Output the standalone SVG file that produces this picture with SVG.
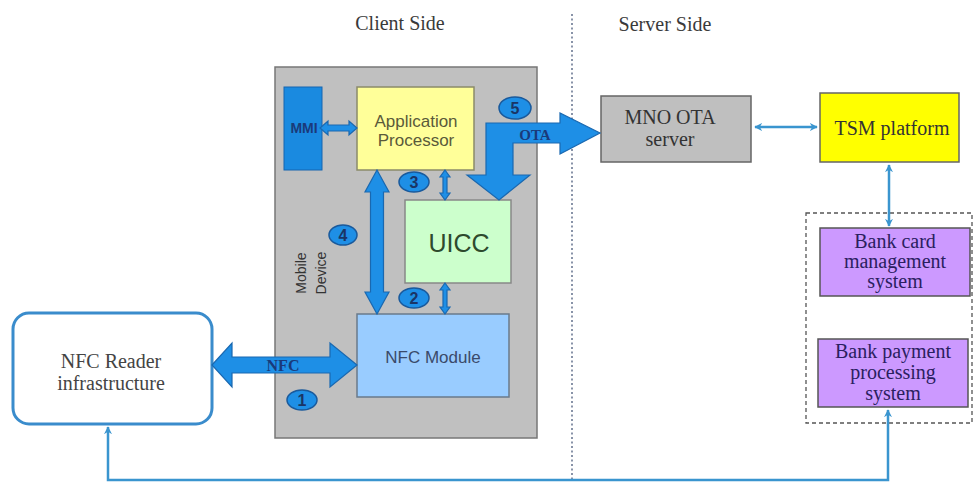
<svg xmlns="http://www.w3.org/2000/svg" width="974" height="482" viewBox="0 0 974 482">
<defs>
<marker id="ah" viewBox="0 0 10 10" refX="9" refY="5" markerWidth="3.2" markerHeight="3.2" orient="auto-start-reverse"><path d="M0,0 L10,5 L0,10 L3,5 Z" fill="#3a95cf"/></marker>
<style>
.serif{font-family:"Liberation Serif","Times New Roman",serif;}
.sans{font-family:"Liberation Sans",Arial,sans-serif;}
.thick{fill:#1e8fe6;stroke:#1a68b0;stroke-width:1.2;stroke-linejoin:miter;}
.thin{fill:none;stroke:#3a95cf;stroke-width:2.5;}
.badge ellipse{fill:#1e8fe6;stroke:#1a5a9c;stroke-width:1.5;}
.badge text{font-family:"Liberation Sans",Arial,sans-serif;font-size:16px;font-weight:bold;fill:#1a3566;text-anchor:middle;}
.lbl{text-anchor:middle;}
.bank{font-size:20px;fill:#2a2060;}
</style>
</defs>
<rect width="974" height="482" fill="#ffffff"/>

<!-- side labels and separator -->
<text class="serif" x="400" y="30" font-size="20" fill="#3a3a3a" text-anchor="middle">Client Side</text>
<text class="serif" x="665" y="31" font-size="20" fill="#3a3a3a" text-anchor="middle">Server Side</text>
<line x1="572" y1="14" x2="572" y2="482" stroke="#4a5a7a" stroke-width="1.3" stroke-dasharray="2,2.5"/>

<!-- Mobile device container -->
<g id="mobile-device">
<rect x="275" y="67" width="262" height="371" fill="#c0c0c0" stroke="#777777" stroke-width="1.5"/>
<text class="sans" font-size="14" fill="#333" text-anchor="middle" transform="translate(306,273) rotate(-90)">Mobile</text>
<text class="sans" font-size="14" fill="#333" text-anchor="middle" transform="translate(326,273) rotate(-90)">Device</text>
</g>

<g id="mmi">
<rect x="284" y="87" width="38" height="83" fill="#1a8ae0" stroke="#1565b0" stroke-width="1"/>
<text class="sans" x="304" y="133" font-size="14" font-weight="bold" fill="#1a3a7a" text-anchor="middle">MMI</text>
</g>

<g id="app-processor">
<rect x="357" y="87" width="117" height="83" fill="#ffff99" stroke="#8a8a6a" stroke-width="1.5"/>
<text class="sans lbl" x="416" y="127" font-size="17" fill="#5a5a3a">Application</text>
<text class="sans lbl" x="416" y="146" font-size="17" fill="#5a5a3a">Processor</text>
</g>

<g id="uicc">
<rect x="405" y="200" width="106" height="83" fill="#ccffcc" stroke="#888888" stroke-width="1.5"/>
<text class="sans lbl" x="459" y="252" font-size="25" fill="#2d4a2d">UICC</text>
</g>

<g id="nfc-module">
<rect x="357" y="314" width="152" height="83" fill="#99ccff" stroke="#6a7a8a" stroke-width="1.5"/>
<text class="sans lbl" x="433" y="363" font-size="17" fill="#3a4a6a">NFC Module</text>
</g>

<g id="nfc-reader">
<rect x="13" y="313" width="199" height="111" rx="16" ry="16" fill="#ffffff" stroke="#3a8ccc" stroke-width="3"/>
<text class="serif lbl" x="111" y="368" font-size="20" fill="#444">NFC Reader</text>
<text class="serif lbl" x="111" y="390" font-size="20" fill="#444">infrastructure</text>
</g>

<g id="mno-ota">
<rect x="601" y="96" width="150" height="66" fill="#bfbfbf" stroke="#666666" stroke-width="1.5"/>
<text class="serif lbl" x="670" y="124" font-size="20" fill="#333">MNO OTA</text>
<text class="serif lbl" x="670" y="146" font-size="20" fill="#333">server</text>
</g>

<g id="tsm">
<rect x="820" y="93" width="139" height="69" fill="#ffff00" stroke="#666666" stroke-width="1.5"/>
<text class="serif lbl" x="892" y="135" font-size="20" fill="#333">TSM platform</text>
</g>

<g id="bank-group">
<rect x="806" y="213" width="166" height="210" fill="none" stroke="#555555" stroke-width="1.3" stroke-dasharray="4,3"/>
</g>

<g id="bank-card">
<rect x="820" y="228" width="150" height="68" fill="#cc99ff" stroke="#555555" stroke-width="1.5"/>
<text class="serif lbl bank" x="895" y="248">Bank card</text>
<text class="serif lbl bank" x="895" y="268">management</text>
<text class="serif lbl bank" x="895" y="288">system</text>
</g>

<g id="bank-payment">
<rect x="818" y="339" width="150" height="68" fill="#cc99ff" stroke="#555555" stroke-width="1.5"/>
<text class="serif lbl bank" x="893" y="358">Bank payment</text>
<text class="serif lbl bank" x="893" y="379">processing</text>
<text class="serif lbl bank" x="893" y="400">system</text>
</g>

<g id="connectors">
<!-- NFC thick double arrow -->
<polygon class="thick" points="212,365 232,343 232,357 330,357 330,343 357,365 330,387 330,373 232,373 232,387"/>
<text class="serif" x="283" y="371" font-size="16" font-weight="bold" fill="#1a3a7a" text-anchor="middle">NFC</text>
<!-- AP <-> NFC module (4) -->
<polygon class="thick" points="377,170 389,192 383.5,192 383.5,292 389,292 377,314 365,292 370.5,292 370.5,192 365,192"/>
<!-- MMI <-> AP -->
<polygon class="thick" points="320,128 328,121 328,125 349,125 349,121 357,128 349,135 349,131 328,131 328,135"/>
<!-- AP <-> UICC (3) -->
<polygon class="thick" points="445,170 450,177 447,177 447,193 450,193 445,200 440,193 443,193 443,177 440,177"/>
<!-- UICC <-> NFC module (2) -->
<polygon class="thick" points="445,283 450,290 447,290 447,307 450,307 445,314 440,307 443,307 443,290 440,290"/>
<!-- OTA L-shaped arrow -->
<polygon class="thick" points="486,123 560,123 560,113 600,133 560,154 560,143 513,143 513,175 530,175 499,200 467,175 486,175"/>
<text class="serif" x="535" y="140" font-size="15" font-weight="bold" fill="#1a3a7a" text-anchor="middle">OTA</text>
<!-- thin connectors -->
<line class="thin" x1="755" y1="127" x2="817" y2="127" marker-start="url(#ah)" marker-end="url(#ah)"/>
<line class="thin" x1="889" y1="165" x2="889" y2="226" marker-start="url(#ah)" marker-end="url(#ah)"/>
<polyline class="thin" points="108,427 108,480 888,480 888,410" marker-start="url(#ah)" marker-end="url(#ah)"/>
</g>

<!-- badges -->
<g id="badge-1" class="badge"><ellipse cx="302" cy="400" rx="15" ry="10"/><text x="302" y="406">1</text></g>
<g id="badge-2" class="badge"><ellipse cx="414" cy="298" rx="15" ry="10"/><text x="414" y="304">2</text></g>
<g id="badge-3" class="badge"><ellipse cx="414" cy="182" rx="15" ry="10"/><text x="414" y="188">3</text></g>
<g id="badge-4" class="badge"><ellipse cx="343" cy="235" rx="14" ry="10"/><text x="343" y="241">4</text></g>
<g id="badge-5" class="badge"><ellipse cx="515" cy="108" rx="16" ry="11"/><text x="515" y="114">5</text></g>
</svg>
